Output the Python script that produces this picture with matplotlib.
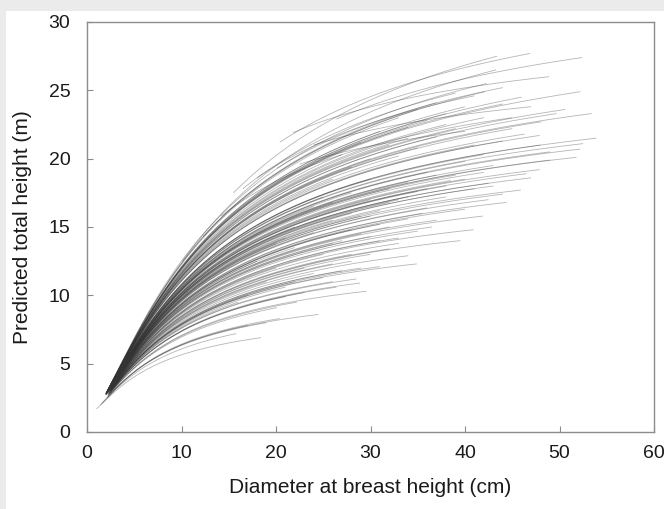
import matplotlib
matplotlib.use("Agg")
import matplotlib.pyplot as plt
from matplotlib.patches import Rectangle
import numpy as np

plt.rcParams['font.family'] = ['Liberation Sans', 'DejaVu Sans']

# one predicted height-diameter curve per plot:
# where each curve starts and ends (dbh, cm) and its height at the end (m)
dbh_start = [20.4, 15.5, 26.4, 10.1, 21.8, 2.5, 12.3, 2.2, 20.1, 2.3, 2.1, 2.6, 2.0, 14.2, 2.4, 2.4,
             2.0, 2.2, 2.5, 2.3, 2.1, 2.0,
             2.0, 2.4, 2.2, 2.6, 2.0, 2.1, 2.7, 2.3, 2.4, 2.0, 2.8, 2.1, 2.2, 2.0, 2.2, 2.5,
             2.0, 2.8, 2.1, 2.3, 2.0, 2.2, 2.0, 2.5, 2.1, 2.7, 2.0, 2.2, 2.4, 2.0, 2.6, 2.0,
             2.3, 2.6, 2.2, 2.5, 2.9, 2.1, 2.7, 2.0, 2.6, 2.3, 2.5, 2.2, 2.6, 2.4, 2.1, 2.7,
             2.0, 2.6, 2.7, 2.4, 2.1, 2.4, 2.2, 2.8, 2.0, 2.4, 2.6, 2.3, 2.0, 2.7, 2.3, 2.4,
             2.6, 2.2, 2.9, 2.4, 2.3, 2.0, 2.4, 2.8, 2.3, 2.7, 2.6, 2.4, 2.3, 2.7, 2.8, 2.6,
             2.2, 2.5, 2.4, 3.0, 2.6,
             2.5, 2.9, 2.5, 2.3, 2.2, 2.8, 2.4, 2.3, 2.1, 2.2, 2.5, 2.3, 1.0, 1.6, 2.4, 2.5,
             2.5, 2.9, 2.3, 2.2, 2.6, 2.4, 2.5, 1.4, 2.3, 2.5, 2.8, 3.0, 2.5, 2.3, 2.2, 2.4,
             2.7, 2.4, 2.5, 2.6,
             18.0, 2.2, 2.4, 24.0, 2.1, 2.3, 16.5, 2.5, 2.0, 22.5]
dbh_end = [46.9, 43.4, 52.4, 43.3, 48.9, 42.3, 42.1, 52.2, 44.0, 50.6, 49.7, 53.4, 48.1, 45.0, 40.0, 38.0,
           37.0, 35.0, 33.0, 31.0, 39.0, 46.0,
           46.3, 47.9, 53.9, 52.5, 52.2, 49.0, 49.0, 51.8, 47.9, 46.5, 47.0, 45.9, 36.0, 44.0, 42.0, 40.0,
           38.5, 43.0, 48.0, 41.0, 35.0, 34.0, 33.0, 32.0, 30.0, 28.0, 26.0, 27.0, 29.0, 37.0, 39.0, 42.0,
           44.4, 41.9, 40.9, 39.5, 44.0, 42.5, 40.0, 38.0, 37.0, 36.0, 35.0, 34.0, 33.0, 38.0, 32.0, 31.0,
           30.0, 29.0, 36.5, 42.5, 37.0, 40.0, 41.0, 43.0, 34.0, 35.0, 35.5, 33.0, 32.0, 31.0, 29.0, 28.0,
           30.0, 30.0, 32.0, 34.0, 36.0, 30.0, 28.0, 26.0, 26.0, 27.0, 28.0, 25.0, 24.0, 24.0, 22.0, 21.0,
           22.0, 20.0, 25.0, 26.0, 28.0,
           34.9, 34.0, 32.0, 31.0, 29.6, 28.9, 28.5, 26.4, 24.5, 22.2, 20.4, 20.1, 18.4, 15.8, 27.0, 25.0,
           30.0, 28.0, 23.0, 19.0, 26.0, 22.0, 33.0, 17.0, 21.0, 23.0, 19.0, 18.0, 20.0, 17.0, 16.0, 24.0,
           26.0, 21.0, 29.0, 31.0,
           41.0, 36.0, 38.0, 47.0, 42.0, 44.0, 39.0, 45.0, 34.0, 40.0]
ht_end = [27.7, 27.5, 27.4, 26.5, 26.0, 25.5, 24.9, 24.9, 25.2, 23.6, 23.3, 23.3, 22.7, 23.0, 23.8, 22.5,
          24.1, 23.6, 23.0, 22.0, 22.2, 24.5,
          21.8, 21.7, 21.5, 21.1, 20.7, 20.5, 19.9, 20.1, 19.2, 18.9, 18.6, 17.7, 19.0, 21.3, 20.3, 19.8,
          18.4, 19.5, 21.0, 21.0, 20.8, 21.5, 20.2, 21.0, 20.0, 19.4, 18.5, 20.3, 21.2, 21.6, 18.8, 19.0,
          16.8, 15.8, 14.8, 14.0, 17.4, 17.0, 16.3, 17.2, 15.5, 16.4, 14.7, 15.6, 14.2, 18.0, 16.8, 15.2,
          17.0, 14.5, 15.0, 18.2, 18.8, 18.5, 17.8, 18.0, 18.3, 17.6, 16.0, 17.0, 17.8, 16.2, 15.8, 16.0,
          14.3, 15.8, 15.0, 17.2, 17.8, 18.5, 17.5, 16.8, 15.5, 14.0, 14.8, 17.2, 16.5, 14.6, 15.0, 14.2,
          13.5, 13.8, 13.0, 13.8, 13.0,
          12.3, 12.9, 13.4, 12.1, 10.3, 10.9, 11.2, 10.6, 8.6, 9.5, 8.3, 9.1, 6.9, 7.2, 11.8, 11.3,
          13.0, 12.5, 10.2, 8.0, 12.3, 11.0, 13.8, 7.8, 9.9, 12.0, 11.0, 12.5, 12.0, 10.0, 9.5, 11.6,
          11.0, 10.6, 12.0, 14.0,
          24.6, 22.8, 23.3, 23.8, 23.0, 24.0, 24.8, 22.2, 22.3, 22.0]
# height where the curve begins, only for curves that start late (None = starts near the origin)
ht_start = [21.2, 17.5, 22.9, 12.5, 21.9, None, 14.3, None, 19.3, None, None, None, None, 15.8] + \
           [None] * 129 + \
           [18.6, None, None, 21.0, None, None, 17.8, None, None, 19.6]

BH = 1.3     # breast height (m)
P0 = 1.25    # shared shape of the Naslund curve for curves starting near the origin

fig = plt.figure(figsize=(6.64, 5.09), dpi=100, facecolor='#ebebeb')
fig.patches.append(Rectangle((6 / 664, 0), 1, 1 - 11 / 509, transform=fig.transFigure,
                             facecolor='white', edgecolor='none', zorder=-1))
ax = fig.add_axes([87 / 664, 1 - 432 / 509, 567 / 664, 410 / 509])

for d0, d1, h1, h0 in zip(dbh_start, dbh_end, ht_end, ht_start):
    if h0 is None:
        q = 1 / np.sqrt(h1 - BH) - P0 / d1
        p = P0
    else:
        y0 = d0 / np.sqrt(h0 - BH)
        y1 = d1 / np.sqrt(h1 - BH)
        q = (y1 - y0) / (d1 - d0)
        p = y0 - q * d0
    d = np.linspace(d0, d1, 120)
    h = BH + (d / (p + q * d)) ** 2
    ax.plot(d, h, color='#333333', lw=0.6, alpha=0.36, solid_capstyle='butt')

ax.set_xlim(0, 60)
ax.set_ylim(0, 30)
ax.set_xticks([0, 10, 20, 30, 40, 50, 60])
ax.set_yticks([0, 5, 10, 15, 20, 25, 30])
for s in ax.spines.values():
    s.set_color('#8c8c8c')
    s.set_linewidth(1.0)
ax.tick_params(direction='in', length=4, color='#8c8c8c', labelsize=14, labelcolor='#1a1a1a')
ax.tick_params(axis='y', pad=12)
ax.tick_params(axis='x', pad=9)
ax.set_xlabel('Diameter at breast height (cm)', fontsize=15, color='#1a1a1a', labelpad=12)
ax.set_ylabel('Predicted total height (m)', fontsize=15, color='#1a1a1a', labelpad=12)

fig.savefig('out.png', dpi=100, facecolor=fig.get_facecolor())
